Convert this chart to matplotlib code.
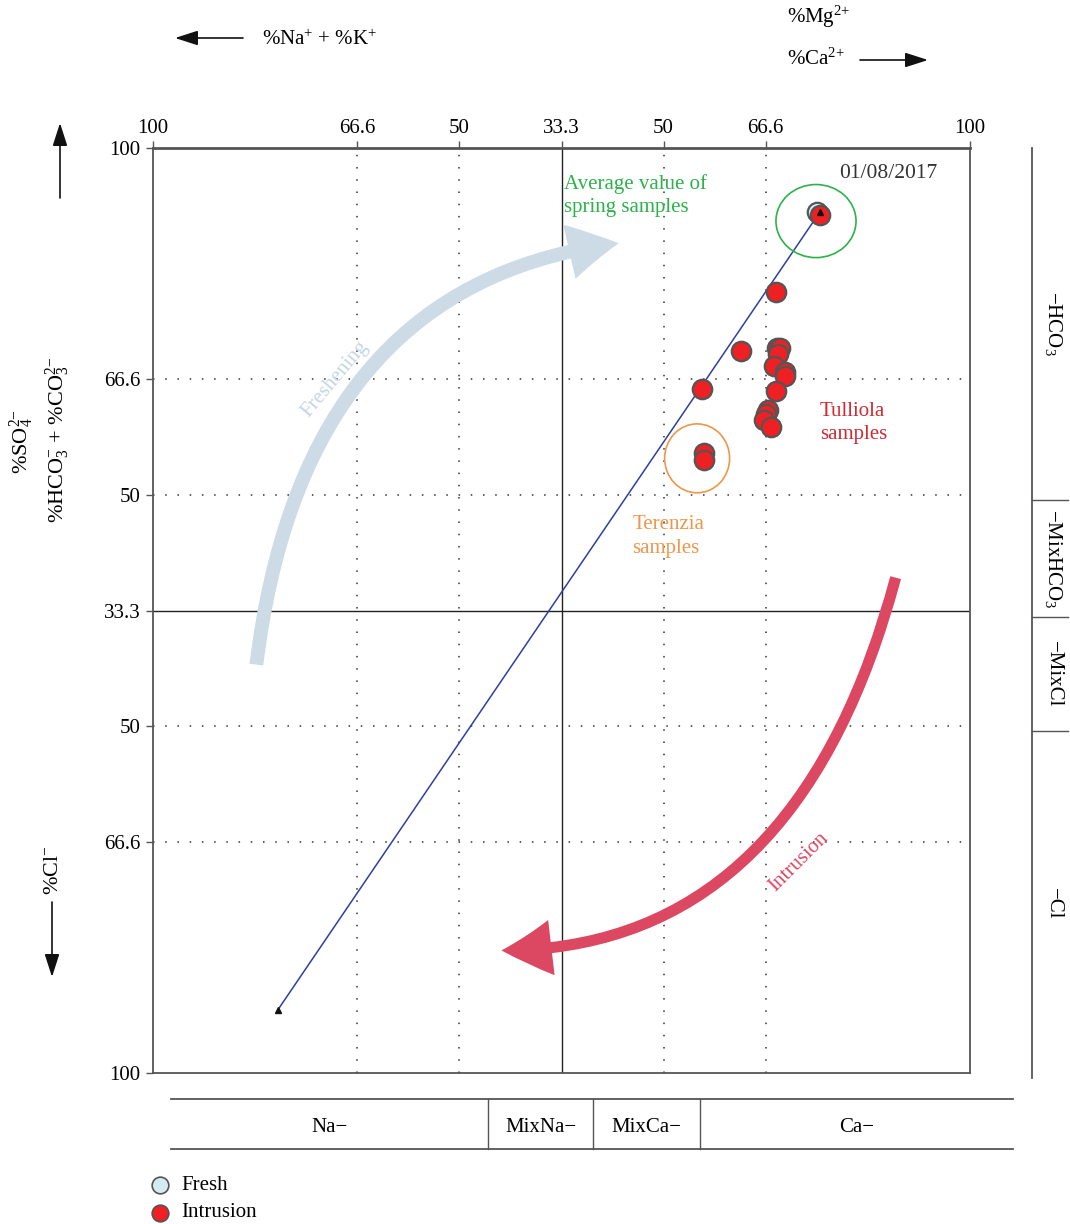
import matplotlib
matplotlib.use('Agg')
from matplotlib import pyplot as plt
from matplotlib.patches import Ellipse, FancyArrowPatch

plt.rcParams['font.family'] = ['Liberation Serif', 'DejaVu Serif']
plt.rcParams['mathtext.fontset'] = 'custom'
plt.rcParams['mathtext.rm'] = 'Liberation Serif'
plt.rcParams['mathtext.it'] = 'Liberation Serif:italic'
plt.rcParams['mathtext.bf'] = 'Liberation Serif:bold'

# Chadha diagram coordinates: x = (Ca+Mg) - (Na+K), y = (HCO3+CO3) - (SO4+Cl)
fresh_x = [62.5]
fresh_y = [86.2]

intrusion_x = [63.2, 52.6, 44.0, 52.7, 53.5, 53.1, 52.1, 54.8, 54.6, 52.4,
               34.5, 50.5, 50.0, 49.5, 51.3, 34.8, 35.0]
intrusion_y = [85.6, 68.8, 56.2, 56.8, 56.8, 55.4, 52.8, 51.6, 50.8, 47.4,
               47.8, 43.3, 42.4, 41.1, 39.7, 34.1, 32.5]

mixing_line_x = [63.2, -69.4]
mixing_line_y = [86.1, -86.3]

tick_pos = [-100, -50, -25, 0, 25, 50, 100]
x_tick_labels = ['100', '66.6', '50', '33.3', '50', '66.6', '100']
y_tick_pos = [100, 50, 25, 0, -25, -50, -100]
y_tick_labels = ['100', '66.6', '50', '33.3', '50', '66.6', '100']

cation_classes = ['Na−', 'MixNa−', 'MixCa−', 'Ca−']
cation_bounds = [-95.6, -18.1, 7.8, 33.8, 110.6]
anion_classes = ['−HCO$_3$', '−MixHCO$_3$', '−MixCl', '−Cl']
anion_bounds = [100, 24, -1.5, -26, -101]

W, H = 1070, 1224


def fxy(px, py):
    """pixel position -> figure fraction"""
    return px / W, 1 - py / H


fig = plt.figure(figsize=(W / 100, H / 100), dpi=100)
ax = fig.add_axes([153 / W, 1 - 1073 / H, (970 - 153) / W, (1073 - 148) / H])
ax.set_xlim(-100, 100)
ax.set_ylim(-100, 100)

# grid
for v in (-50, -25, 25, 50):
    ax.axvline(v, color='#333333', lw=1.1, ls=(0, (1, 7)), zorder=1)
    ax.axhline(v, color='#333333', lw=1.1, ls=(0, (1, 7)), zorder=1)
ax.axvline(0, color='#222222', lw=1, zorder=1)
ax.axhline(0, color='#222222', lw=1, zorder=1)

for s in ax.spines.values():
    s.set_color('#555555')
    s.set_linewidth(1.3)
ax.spines['top'].set_linewidth(2)

ax.xaxis.tick_top()
ax.set_xticks(tick_pos)
ax.set_xticklabels(x_tick_labels)
ax.set_yticks(y_tick_pos)
ax.set_yticklabels(y_tick_labels)
ax.tick_params(axis='both', direction='out', length=5, width=1, color='#555555',
               labelsize=15, pad=4)
ax.tick_params(axis='x', pad=2)

# mixing line
ax.plot(mixing_line_x, mixing_line_y, color='#2e3f9e', lw=1.1, zorder=3)
ax.plot(mixing_line_x, mixing_line_y, ls='none', marker='^', ms=4.5, color='#111111', zorder=6)

# samples
ax.plot(fresh_x, fresh_y, ls='none', marker='o', ms=14, mfc='#d4ebf2', mec='#555555',
        mew=1.6, zorder=4)
ax.plot(intrusion_x, intrusion_y, ls='none', marker='o', ms=14, mfc='#ee2024', mec='#555555',
        mew=1.6, zorder=5)

# group circles
ax.add_patch(Ellipse((62.3, 84.2), 19.6, 15.8, fill=False, ec='#2db24a', lw=1.2, zorder=3))
ax.add_patch(Ellipse((33.2, 32.9), 15.9, 14.9, fill=False, ec='#f0964a', lw=1.2, zorder=3))

# freshening / intrusion arrows
ax.add_patch(FancyArrowPatch((-74.7, -11.7), (14.0, 79.4),
                             connectionstyle='angle3,angleA=83,angleB=7',
                             arrowstyle='simple,head_length=36,head_width=40,tail_width=10',
                             mutation_scale=1, shrinkA=0, shrinkB=0, color='#cddbe6', lw=0,
                             zorder=2))
ax.add_patch(FancyArrowPatch((81.8, 7.1), (-14.7, -73.5),
                             connectionstyle='angle3,angleA=75,angleB=0',
                             arrowstyle='simple,head_length=36,head_width=40,tail_width=8',
                             mutation_scale=1, shrinkA=0, shrinkB=0, color='#dc4862', lw=0,
                             zorder=2))
ax.text(-55.5, 50.0, 'Freshening', color='#c5d5e5', fontsize=15, rotation=50,
        ha='center', va='center')
ax.text(58.0, -54.3, 'Intrusion', color='#dc4862', fontsize=15, rotation=45,
        ha='center', va='center')

# annotations
ax.text(0.7, 89.7, 'Average value of\nspring samples', color='#2db24a', fontsize=15,
        ha='left', va='center', linespacing=1.3)
ax.text(80.0, 94.5, '01/08/2017', color='#333333', fontsize=15.5, ha='center', va='center')
ax.text(63.2, 40.5, 'Tulliola\nsamples', color='#d02a34', fontsize=15, ha='left',
        va='center', linespacing=1.3)
ax.text(17.4, 16.0, 'Terenzia\nsamples', color='#f0964a', fontsize=15, ha='left',
        va='center', linespacing=1.3)

# cation classes (bottom)
for yy in (-105.7, -116.5):
    ax.plot([cation_bounds[0], cation_bounds[-1]], [yy, yy], color='#555555', lw=1.3,
            clip_on=False)
for xb in cation_bounds[1:-1]:
    ax.plot([xb, xb], [-105.7, -116.5], color='#555555', lw=1, clip_on=False)
for i, lab in enumerate(cation_classes):
    ax.text((cation_bounds[i] + cation_bounds[i + 1]) / 2, -111.8, lab, fontsize=15,
            ha='center', va='center', clip_on=False)

# anion classes (right)
ax.plot([115.1, 115.1], [anion_bounds[0], anion_bounds[-1]], color='#555555', lw=1.3,
        clip_on=False)
for yb in anion_bounds[1:-1]:
    ax.plot([115.1, 124.1], [yb, yb], color='#555555', lw=1, clip_on=False)
for i, lab in enumerate(anion_classes):
    ax.text(120.4, (anion_bounds[i] + anion_bounds[i + 1]) / 2, lab, fontsize=15,
            rotation=-90, ha='center', va='center', clip_on=False)

# legend
ax.plot([-98.2], [-124.3], ls='none', marker='o', ms=12, mfc='#d4ebf2', mec='#555555',
        mew=1.2, clip_on=False)
ax.plot([-98.2], [-130.2], ls='none', marker='o', ms=12, mfc='#ee2024', mec='#555555',
        mew=1.2, clip_on=False)
ax.text(-93.0, -124.3, 'Fresh', fontsize=15, ha='left', va='center')
ax.text(-93.0, -130.2, 'Intrusion', fontsize=15, ha='left', va='center')

# axis titles with arrows
arrow_kw = dict(arrowstyle='-|>,head_length=1.4,head_width=0.45', mutation_scale=10,
                color='#111111', lw=1.2, shrinkA=0, shrinkB=0, transform=fig.transFigure)
fig.add_artist(FancyArrowPatch(fxy(243, 38), fxy(175, 38), **arrow_kw))
fig.text(*fxy(262, 40), '%Na$^{+}$ + %K$^{+}$', fontsize=15, ha='left', va='center')
fig.text(*fxy(787, 17), '%Mg$^{2{+}}$', fontsize=15, ha='left', va='center')
fig.text(*fxy(787, 59), '%Ca$^{2{+}}$', fontsize=15, ha='left', va='center')
fig.add_artist(FancyArrowPatch(fxy(860, 60), fxy(928, 60), **arrow_kw))

fig.add_artist(FancyArrowPatch(fxy(60, 198), fxy(60, 123), **arrow_kw))
fig.text(*fxy(22, 442), '%SO$_4^{2{-}}$', fontsize=16, rotation=90, ha='center', va='center')
fig.text(*fxy(58, 440), '%HCO$_3^{-}$ + %CO$_3^{2{-}}$', fontsize=16, rotation=90,
         ha='center', va='center')
fig.text(*fxy(54, 870), '%Cl$^{-}$', fontsize=16, rotation=90, ha='center', va='center')
fig.add_artist(FancyArrowPatch(fxy(52, 902), fxy(52, 977), **arrow_kw))

plt.savefig('out.png', dpi=100)
